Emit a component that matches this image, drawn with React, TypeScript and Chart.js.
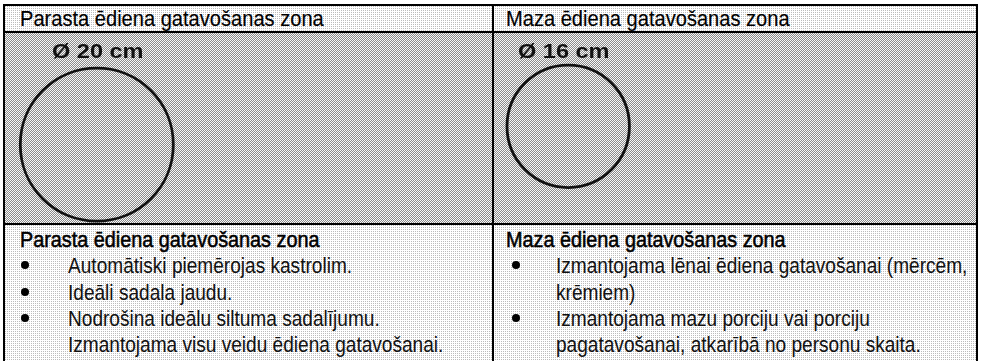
import React, { useEffect, useRef } from "react";
import { Chart, registerables } from "chart.js";

Chart.register(...registerables);

// ---- data ----
const zoneTitles = ["Parasta ēdiena gatavošanas zona", "Maza ēdiena gatavošanas zona"];
const zoneDiametersCm = [20, 16];
const zoneLabels = ["Ø 20 cm", "Ø 16 cm"];
// circle centre in cm, measured from the cell's left / top edge
const zoneCenterXCm = [12.0, 9.7];
const zoneCenterYCm = [14.6, 12.2];
const leftBullets = [
  ["Automātiski piemērojas kastrolim."],
  ["Ideāli sadala jaudu."],
  ["Nodrošina ideālu siltuma sadalījumu.", "Izmantojama visu veidu ēdiena gatavošanai."],
];
const rightBullets = [
  ["Izmantojama lēnai ēdiena gatavošanai (mērcēm,", "krēmiem)"],
  ["Izmantojama mazu porciju vai porciju", "pagatavošanai, atkarībā no personu skaita."],
];

const PX_PER_CM = 7.65;
const FONT = '"Liberation Sans", Arial, Helvetica, sans-serif';

const checker = "repeating-conic-gradient(#8a8a8a 0% 25%, #f8f8f8 0% 50%) 0 0 / 2px 2px";
const light = "conic-gradient(at 1px 1px, #ffffff 75%, #bcbcbc 0) 0 0 / 2px 2px";

function CircleChart({ idx, left, width }: { idx: number; left: number; width: number }) {
  const ref = useRef<HTMLCanvasElement | null>(null);
  const height = 190;
  useEffect(() => {
    if (!ref.current) return;
    const d = zoneDiametersCm[idx];
    const radius = (ctx: any) => {
      const s = ctx.chart.scales.x;
      return Math.abs(s.getPixelForValue(d / 2) - s.getPixelForValue(0));
    };
    const chart = new Chart(ref.current, {
      type: "scatter",
      data: {
        datasets: [
          {
            data: [{ x: zoneCenterXCm[idx], y: zoneCenterYCm[idx] }],
            pointRadius: radius,
            pointHoverRadius: radius,
            pointBorderWidth: 2.8,
            pointBorderColor: "#111111",
            pointBackgroundColor: "rgba(0,0,0,0)",
            clip: false as any,
          },
        ],
      },
      options: {
        animation: false,
        responsive: false,
        devicePixelRatio: 1,
        events: [],
        layout: { padding: 0 },
        scales: {
          x: { type: "linear", min: 0, max: width / PX_PER_CM, display: false },
          y: { type: "linear", min: 0, max: height / PX_PER_CM, reverse: true, display: false },
        },
        plugins: { legend: { display: false }, tooltip: { enabled: false } },
      },
    });
    return () => chart.destroy();
  }, [idx, width]);
  return (
    <canvas
      ref={ref}
      width={width}
      height={height}
      style={{ position: "absolute", left, top: 33, width, height, display: "block" }}
    />
  );
}

const abs = (s: React.CSSProperties): React.CSSProperties => ({ position: "absolute", ...s });

const BULLET_BASELINES = [274, 300.5, 327, 353];
const BODY_SIZE = 22;

function Bullets({ items, bulletX, textX }: { items: string[][]; bulletX: number; textX: number }) {
  const out: React.ReactNode[] = [];
  let line = 0;
  items.forEach((lines, i) => {
    lines.forEach((t, j) => {
      const base = BULLET_BASELINES[line];
      const top = base - 0.8465 * BODY_SIZE;
      if (j === 0) {
        out.push(
          <div key={`b${i}`} style={abs({ left: bulletX - 4, top: base - 13, width: 8, height: 8, borderRadius: 4, background: "#000" })} />
        );
      }
      out.push(
        <div
          key={`t${i}-${j}`}
          style={abs({
            left: textX,
            top,
            fontSize: BODY_SIZE,
            lineHeight: `${BODY_SIZE}px`,
            whiteSpace: "nowrap",
            fontFamily: FONT,
            color: "#111",
            transform: "scaleX(0.867)",
            transformOrigin: "0 0",
          })}
        >
          {t}
        </div>
      );
      line++;
    });
  });
  return <>{out}</>;
}

export default function App() {
  useEffect(() => {
    document.body.style.margin = "0";
  }, []);
  const headerStyle = (left: number, baseline: number, bold = false): React.CSSProperties =>
    abs({
      left,
      top: baseline - 0.8465 * 22,
      fontSize: 22,
      lineHeight: "22px",
      whiteSpace: "nowrap",
      fontFamily: FONT,
      color: "#000",
      transform: bold ? "scaleX(0.9)" : "scaleX(0.913)",
      transformOrigin: "0 0",
      WebkitTextStroke: bold ? "0.55px #000" : "0.15px #000",
    });
  const labelStyle = (left: number): React.CSSProperties =>
    abs({
      left,
      top: 40,
      fontSize: 21,
      lineHeight: "21px",
      fontWeight: "bold",
      whiteSpace: "nowrap",
      fontFamily: FONT,
      color: "#111",
      transform: "scaleX(1.12)",
      transformOrigin: "0 0",
    });
  return (
    <div style={{ position: "relative", width: 982, height: 361, overflow: "hidden", background: "#fff" }}>
      {/* backgrounds */}
      <div style={abs({ left: 5, top: 6, width: 971, height: 25, background: light })} />
      <div style={abs({ left: 5, top: 33, width: 971, height: 190, background: checker })} />
      <div style={abs({ left: 5, top: 225, width: 971, height: 136, background: light })} />

      <CircleChart idx={0} left={5} width={487} />
      <CircleChart idx={1} left={494} width={482} />

      {/* grid lines */}
      <div style={abs({ left: 3, top: 4, width: 975, height: 2, background: "#000" })} />
      <div style={abs({ left: 3, top: 31, width: 975, height: 2, background: "#000" })} />
      <div style={abs({ left: 3, top: 223, width: 975, height: 2, background: "#000" })} />
      <div style={abs({ left: 3, top: 4, width: 2, height: 357, background: "#000" })} />
      <div style={abs({ left: 492, top: 4, width: 2, height: 357, background: "#000" })} />
      <div style={abs({ left: 976, top: 4, width: 2, height: 357, background: "#000" })} />

      {/* header row */}
      <div style={headerStyle(20, 27)}>{zoneTitles[0]}</div>
      <div style={headerStyle(506, 27)}>{zoneTitles[1]}</div>

      {/* diameter labels */}
      <div style={labelStyle(52)}>{zoneLabels[0]}</div>
      <div style={labelStyle(518)}>{zoneLabels[1]}</div>

      {/* bottom row */}
      <div style={headerStyle(20, 248, true)}>{zoneTitles[0]}</div>
      <div style={headerStyle(506, 248, true)}>{zoneTitles[1]}</div>
      <Bullets items={leftBullets} bulletX={25} textX={68} />
      <Bullets items={rightBullets} bulletX={516} textX={556} />
    </div>
  );
}
